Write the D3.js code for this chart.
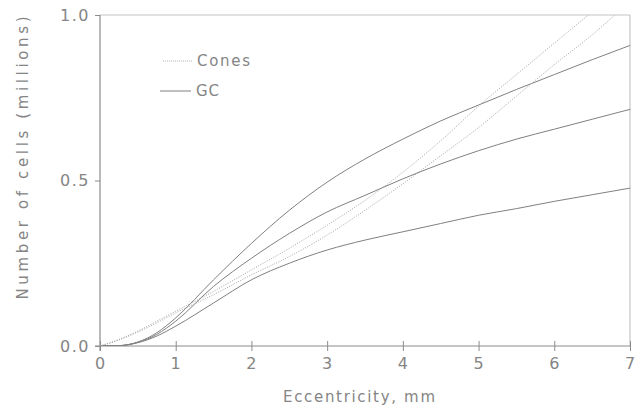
<!DOCTYPE html>
<html><head><meta charset="utf-8">
<script src="https://cdn.jsdelivr.net/npm/d3@7"></script>
<style>body{margin:0;background:#fff}svg{display:block}</style>
</head><body><svg id="c" width="641" height="408"></svg>
<script>
// Eccentricity (mm) sample points for the ganglion cell curves
const ecc = [0,0.25,0.5,0.75,1,1.5,2,2.5,3,3.5,4,4.5,5,5.5,6,6.5,7];
// Cumulative ganglion cell counts (millions)
const gcHigh = [0,0.001,0.012,0.04,0.085,0.2,0.31,0.41,0.495,0.565,0.625,0.68,0.728,0.775,0.82,0.865,0.908];
const gcMid  = [0,0.001,0.011,0.035,0.075,0.18,0.265,0.34,0.405,0.455,0.505,0.55,0.59,0.625,0.655,0.685,0.715];
const gcLow  = [0,0.001,0.01,0.03,0.06,0.13,0.2,0.25,0.29,0.32,0.345,0.37,0.395,0.415,0.437,0.457,0.477];
// Cumulative cone counts (millions)
const eccConesA = [0,0.25,0.5,0.75,1,1.5,2,2.5,3,3.5,4,4.5,5,5.5,6,6.45];
const conesA    = [0,0.02,0.045,0.075,0.105,0.165,0.23,0.295,0.365,0.44,0.525,0.62,0.725,0.82,0.915,1.0];
const eccConesB = [0,0.25,0.5,0.75,1,1.5,2,2.5,3,3.5,4,4.5,5,5.5,6,6.5,6.8];
const conesB    = [0,0.018,0.042,0.07,0.1,0.155,0.215,0.27,0.335,0.41,0.49,0.575,0.66,0.755,0.85,0.94,1.0];
const xTicks = [0,1,2,3,4,5,6,7];
const yTicks = [0,0.5,1.0];
const legendLabels = ["Cones","GC"];

const svg = d3.select("#c");
const x = d3.scaleLinear().domain([0,7]).range([100,630]);
const y = d3.scaleLinear().domain([0,1]).range([346,15]);
const font = "DejaVu Sans, sans-serif";
const axisCol = "#8c8c8c", textCol = "#858585";

// frame (top and right)
svg.append("line").attr("x1",x(0)).attr("x2",x(7)).attr("y1",y(1)).attr("y2",y(1)).attr("stroke","#c4c4c4").attr("stroke-width",1.2);
svg.append("line").attr("x1",x(7)).attr("x2",x(7)).attr("y1",y(1)).attr("y2",y(0)).attr("stroke","#c4c4c4").attr("stroke-width",1.2);

// x axis
const gx = svg.append("g").attr("transform",`translate(0,${y(0)})`)
  .call(d3.axisBottom(x).tickValues(xTicks).tickFormat(d3.format("d")).tickSize(5).tickSizeOuter(0));
gx.select(".domain").remove();
gx.append("line").attr("x1",x(0)-5).attr("x2",x(7)).attr("stroke",axisCol).attr("stroke-width",1.2);
gx.selectAll(".tick line").attr("y1",-5).attr("stroke",axisCol);
gx.selectAll(".tick text").attr("y",12).attr("fill",textCol).style("font-family",font).style("font-size","16px").style("letter-spacing","1px");

// y axis
const gy = svg.append("g").attr("transform",`translate(${x(0)},0)`)
  .call(d3.axisLeft(y).tickValues(yTicks).tickFormat(d3.format(".1f")).tickSize(5).tickSizeOuter(0));
gy.select(".domain").remove();
gy.append("line").attr("y1",y(1)).attr("y2",y(0)+5).attr("stroke",axisCol).attr("stroke-width",1.2);
gy.selectAll(".tick line").attr("stroke",axisCol);
gy.selectAll(".tick text").attr("x",-10).attr("fill",textCol).style("font-family",font).style("font-size","16px").style("letter-spacing","1.5px");

// axis titles
svg.append("text").attr("x",359).attr("y",402).attr("text-anchor","middle")
  .attr("textLength",152).attr("lengthAdjust","spacing")
  .attr("fill",textCol).style("font-family",font).style("font-size","15px").text("Eccentricity, mm");
svg.append("text").attr("transform","translate(28,158) rotate(-90)").attr("text-anchor","middle")
  .attr("textLength",283).attr("lengthAdjust","spacing")
  .attr("fill",textCol).style("font-family",font).style("font-size","15px").text("Number of cells (millions)");

// curves
svg.append("clipPath").attr("id","clip").append("rect").attr("x",x(0)).attr("y",y(1)).attr("width",x(7)-x(0)).attr("height",y(0)-y(1));
const line = d3.line().x(d=>x(d[0])).y(d=>y(d[1])).curve(d3.curveMonotoneX);
const plot = svg.append("g").attr("clip-path","url(#clip)");
const solid = [gcHigh,gcMid,gcLow].map(s=>ecc.map((e,i)=>[e,s[i]]));
const dotted = [[eccConesA,conesA],[eccConesB,conesB]].map(([es,vs])=>es.map((e,i)=>[e,vs[i]]));
plot.selectAll(".gc").data(solid).join("path").attr("class","gc").attr("d",line)
  .attr("fill","none").attr("stroke","#808080").attr("stroke-width",1);
plot.selectAll(".cone").data(dotted).join("path").attr("class","cone").attr("d",line)
  .attr("fill","none").attr("stroke","#a4a4a4").attr("stroke-width",1).attr("stroke-dasharray","1,1.5");

// legend
const leg = [{label:legendLabels[0],x1:163,x2:192,y:61,tx:197,tl:53,dash:"1,1",col:"#b4b4b4"},
             {label:legendLabels[1],x1:160,x2:191,y:91,tx:196,tl:23,dash:null,col:"#808080"}];
leg.forEach(l=>{
  const ln = svg.append("line").attr("x1",l.x1).attr("x2",l.x2).attr("y1",l.y).attr("y2",l.y).attr("stroke",l.col).attr("stroke-width",1);
  if(l.dash) ln.attr("stroke-dasharray",l.dash);
  svg.append("text").attr("x",l.tx).attr("y",l.y).attr("dy","0.36em").attr("textLength",l.tl).attr("lengthAdjust","spacing")
    .attr("fill",textCol).style("font-family",font).style("font-size","15px").text(l.label);
});
</script></body></html>
